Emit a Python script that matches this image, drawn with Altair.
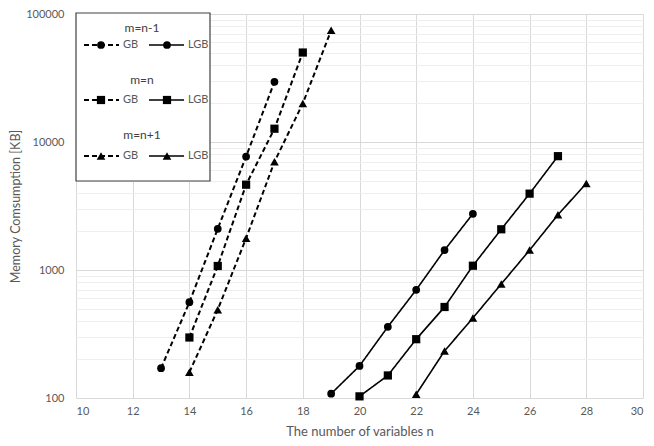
import altair as alt
import pandas as pd

# ---- data ----
gb_n1_x = [13, 14, 15, 16, 17]
gb_n1_y = [171, 560, 2100, 7700, 29500]
gb_n_x = [14, 15, 16, 17, 18]
gb_n_y = [297, 1075, 4640, 12700, 50000]
gb_np1_x = [14, 15, 16, 17, 18, 19]
gb_np1_y = [159, 490, 1770, 7000, 20000, 74500]

lgb_n1_x = [19, 20, 21, 22, 23, 24]
lgb_n1_y = [108, 178, 360, 700, 1430, 2750]
lgb_n_x = [20, 21, 22, 23, 24, 25, 26, 27]
lgb_n_y = [103, 150, 288, 514, 1080, 2080, 3950, 7750]
lgb_np1_x = [22, 23, 24, 25, 26, 27, 28]
lgb_np1_y = [107, 233, 422, 778, 1430, 2700, 4750]

major_ticks = [100, 1000, 10000, 100000]
minor_ticks = [m * d for d in [100, 1000, 10000] for m in range(2, 10)]
x_ticks = [10, 12, 14, 16, 18, 20, 22, 24, 26, 28, 30]

groups = ["m=n-1", "m=n", "m=n+1"]
methods = ["GB", "LGB"]

rows = []
for method, m, xs, ys in [
    ("GB", "m=n-1", gb_n1_x, gb_n1_y),
    ("GB", "m=n", gb_n_x, gb_n_y),
    ("GB", "m=n+1", gb_np1_x, gb_np1_y),
    ("LGB", "m=n-1", lgb_n1_x, lgb_n1_y),
    ("LGB", "m=n", lgb_n_x, lgb_n_y),
    ("LGB", "m=n+1", lgb_np1_x, lgb_np1_y),
]:
    for xv, yv in zip(xs, ys):
        rows.append({"n": xv, "mem": yv, "method": method, "m": m, "series": method + " " + m})
df = pd.DataFrame(rows)

FONT = "Lato"
GRAY = "#595959"

x_enc = alt.X("n:Q", scale=alt.Scale(domain=[10, 30], nice=False, zero=False),
              axis=alt.Axis(values=x_ticks, title="The number of variables n", grid=True,
                            gridColor="#d9d9d9", domain=False, ticks=False,
                            labelPadding=7, titlePadding=9, titleFontSize=13))
y_enc = alt.Y("mem:Q", scale=alt.Scale(type="log", domain=[100, 100000], nice=False),
              axis=alt.Axis(values=major_ticks + minor_ticks, format="d",
                            labelExpr="indexof([100,1000,10000,100000], datum.value) >= 0 ? datum.label : ''",
                            gridColor={"condition": {"test": "indexof([100,1000,10000,100000], datum.value) >= 0", "value": "#d9d9d9"}, "value": "#eeeeee"},
                            title="Memory Comsumption [KB]", domain=False, ticks=False,
                            labelPadding=12, titlePadding=3, labelOverlap=False, titleFontSize=12.5))

base = alt.Chart(df)

lines = base.mark_line(color="black").encode(
    x=x_enc, y=y_enc,
    detail="series:N",
    strokeDash=alt.StrokeDash("method:N", scale=alt.Scale(domain=methods, range=[[5, 3], [1, 0]]), legend=None),
    strokeWidth=alt.StrokeWidth("method:N", scale=alt.Scale(domain=methods, range=[2, 1.6]), legend=None),
)
points = base.mark_point(filled=True, color="black", opacity=1).encode(
    x="n:Q", y="mem:Q",
    shape=alt.Shape("m:N", scale=alt.Scale(domain=groups, range=["circle", "square", "triangle-up"]), legend=None),
    size=alt.Size("m:N", scale=alt.Scale(domain=groups, range=[60, 75, 50]), legend=None),
)

# ---- custom legend box (pixel layout) ----
one = pd.DataFrame({"a": [0]})
box = alt.Chart(one).mark_rect(fill="white", stroke="#404040", strokeWidth=1.2).encode(
    x=alt.value(0), x2=alt.value(134), y=alt.value(-1), y2=alt.value(167))

title_y = [14, 66, 121]
row_y = [31, 86, 142]
leg_titles = pd.DataFrame({"t": groups, "px": [66, 66, 66], "py": title_y})
titles = alt.Chart(leg_titles).mark_text(font=FONT, fontSize=12, color="#404040").encode(
    x=alt.X("px:Q", scale=None), y=alt.Y("py:Q", scale=None), text="t:N")

seg_rows = []
for g, ry in zip(groups, row_y):
    seg_rows.append({"m": g, "method": "GB", "x1": 8, "x2": 43, "py": ry, "mx": 25, "tx": 47, "lab": "GB"})
    seg_rows.append({"m": g, "method": "LGB", "x1": 73, "x2": 108, "py": ry, "mx": 91, "tx": 112, "lab": "LGB"})
segdf = pd.DataFrame(seg_rows)
segs = alt.Chart(segdf).mark_rule(color="black").encode(
    x=alt.X("x1:Q", scale=None), x2="x2:Q", y=alt.Y("py:Q", scale=None),
    strokeDash=alt.StrokeDash("method:N", scale=alt.Scale(domain=methods, range=[[5, 3], [1, 0]]), legend=None),
    strokeWidth=alt.StrokeWidth("method:N", scale=alt.Scale(domain=methods, range=[2, 1.6]), legend=None),
)
marks = alt.Chart(segdf).mark_point(filled=True, color="black", opacity=1).encode(
    x=alt.X("mx:Q", scale=None), y=alt.Y("py:Q", scale=None),
    shape=alt.Shape("m:N", scale=alt.Scale(domain=groups, range=["circle", "square", "triangle-up"]), legend=None),
    size=alt.Size("m:N", scale=alt.Scale(domain=groups, range=[60, 75, 50]), legend=None),
)
labs = alt.Chart(segdf).mark_text(font=FONT, fontSize=11, color=GRAY, align="left").encode(
    x=alt.X("tx:Q", scale=None), y=alt.Y("py:Q", scale=None), text="lab:N")

chart = alt.layer(lines, points, box, titles, segs, marks, labs).resolve_scale(
    strokeDash="shared", shape="shared", size="shared", strokeWidth="shared"
).properties(
    width=567, height=384,
    autosize=alt.AutoSizeParams(type="none"),
    padding={"left": 68, "top": 6, "right": 3, "bottom": 40},
).configure_view(stroke=None).configure_axis(
    labelFont=FONT, titleFont=FONT, labelColor=GRAY, titleColor=GRAY,
    labelFontSize=11, titleFontWeight="normal",
)

chart.save("out.html", embed_options={"renderer": "svg", "actions": False})
